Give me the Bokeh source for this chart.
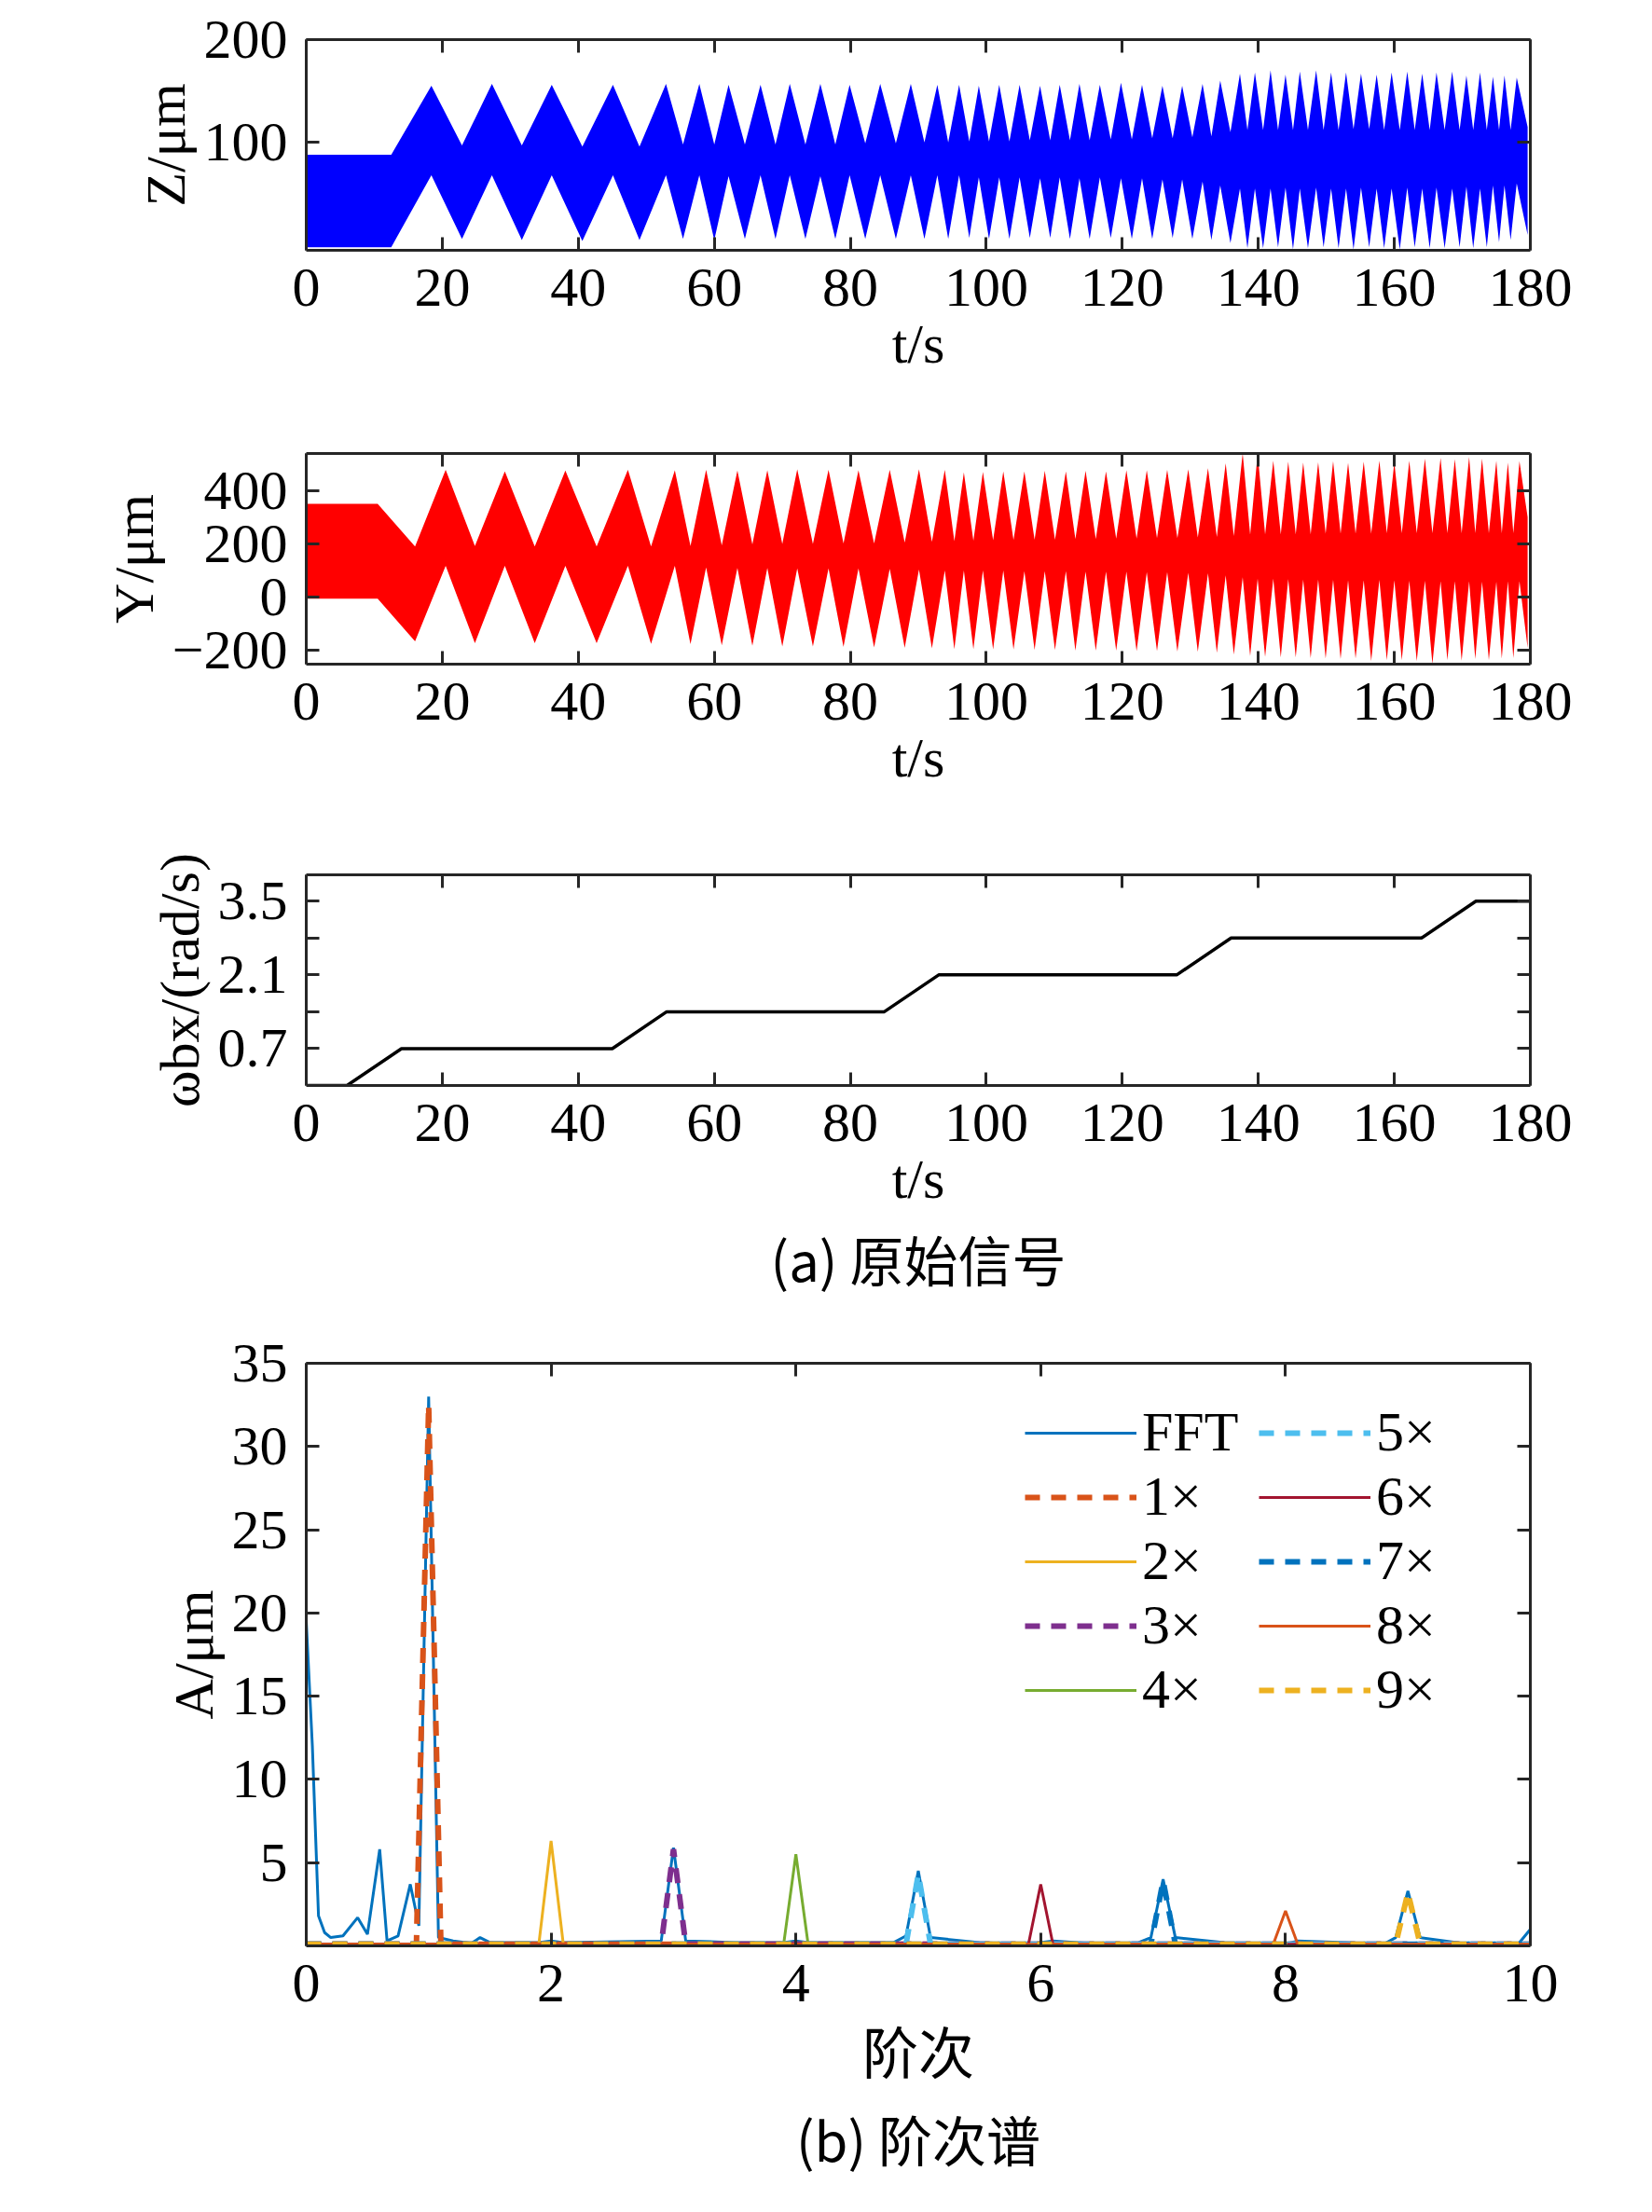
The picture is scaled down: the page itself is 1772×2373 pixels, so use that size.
from bokeh.plotting import figure
from bokeh.layouts import column
from bokeh.models import LinearAxis, Range1d, FixedTicker, Title, Legend, LegendItem
from bokeh.embed import file_html
from bokeh.resources import INLINE

# ---- Z displacement envelope ----
z_start_t = [0, 12.5]
z_start_hi = [88, 88]
z_start_lo = [-2, -2]
z_pk_t = [18.4, 27.3, 36.1, 45.1, 52.9, 57.8, 62.1, 66.8, 71.1, 75.6, 79.9, 84.4, 88.9, 92.8, 96.0, 98.9,
          101.9, 104.9, 107.9, 110.8, 113.7, 116.7, 119.8, 122.9, 125.9, 128.8, 131.8, 134.4, 137.3, 139.5,
          141.8, 144.0, 146.1, 148.5, 150.7, 152.9, 155.1, 157.4, 159.6, 161.9, 164.1, 166.2, 168.5, 170.6,
          172.6, 174.5, 176.2, 178.0]
z_pk_hi = [155, 157, 156, 156, 157, 157, 156, 156, 157, 157, 156, 157, 157, 156, 156, 155, 156, 156, 155, 156,
           157, 156, 158, 156, 155, 155, 157, 160, 167, 168, 170, 166, 169, 170, 168, 168, 167, 166, 168, 169,
           167, 168, 169, 165, 168, 164, 165, 163]
z_pk_lo = [68, 68, 68, 68, 68, 68, 67, 68, 68, 67, 68, 68, 68, 68, 68, 66, 66, 66, 65, 66, 65, 66, 65, 65, 64,
           64, 62, 58, 55, 55, 55, 56, 55, 56, 55, 55, 56, 55, 55, 56, 55, 56, 55, 57, 55, 58, 58, 60]
z_dp_t = [22.9, 31.7, 40.6, 49.0, 55.4, 60.0, 64.5, 69.0, 73.4, 77.8, 82.2, 86.7, 90.9, 94.4, 97.5, 100.4,
          103.4, 106.4, 109.4, 112.3, 115.2, 118.3, 121.4, 124.4, 127.4, 130.3, 133.1, 135.9, 138.4, 140.7,
          142.9, 145.1, 147.3, 149.6, 151.8, 154.0, 156.3, 158.5, 160.8, 163.0, 165.2, 167.4, 169.6, 171.6,
          173.6, 175.4, 177.1, 179.6]
z_dp_hi = [97, 97, 96, 96, 98, 98, 98, 98, 98, 98, 99, 99, 100, 100, 101, 101, 101, 102, 102, 102, 102, 103,
           103, 104, 104, 105, 106, 110, 112, 112, 112, 112, 112, 112, 112, 113, 113, 112, 112, 112, 112, 112,
           112, 112, 112, 112, 112, 115]
z_dp_lo = [6, 5, 4, 5, 6, 5, 6, 6, 6, 6, 6, 6, 6, 6, 7, 6, 6, 7, 7, 6, 6, 7, 6, 6, 7, 6, 5, 2, -3, -3, -2, -4,
           -3, -2, -3, -4, -2, -3, -4, -2, -3, -3, -2, -3, -2, 3, 5, 10]

# ---- Y displacement envelope ----
y_start_t = [0, 10.5]
y_start_hi = [350, 350]
y_start_lo = [-5, -5]
y_pk_t = [20.5, 29.2, 38.1, 47.3, 54.2, 58.8, 63.4, 67.8, 72.2, 76.8, 81.2, 85.8, 90.1, 93.9, 96.7, 99.5,
          102.5, 105.6, 108.6, 111.7, 114.6, 117.6, 120.6, 123.6, 126.6, 129.7, 132.6, 135.2, 137.7, 139.9,
          142.2, 144.4, 146.6, 148.8, 151.0, 153.2, 155.5, 157.8, 160.0, 162.2, 164.5, 166.8, 168.9, 171.0,
          172.9, 175.0, 176.7, 178.4]
y_pk_hi = [478, 472, 475, 478, 476, 478, 475, 476, 480, 478, 476, 478, 480, 478, 468, 470, 472, 472, 474, 472,
           474, 472, 476, 476, 478, 480, 484, 502, 540, 538, 512, 508, 505, 506, 510, 504, 508, 512, 506, 512,
           520, 522, 518, 526, 520, 512, 505, 510]
y_pk_lo = [118, 118, 118, 118, 118, 112, 110, 110, 108, 108, 108, 106, 104, 100, 100, 100, 100, 98, 98, 98,
           96, 96, 96, 94, 94, 92, 90, 82, 75, 70, 70, 68, 66, 66, 65, 64, 64, 65, 64, 62, 62, 60, 60, 60, 58,
           58, 60, 60]
y_dp_t = [16.0, 24.8, 33.6, 42.7, 50.7, 56.5, 61.1, 65.6, 70.0, 74.5, 79.0, 83.5, 88.0, 92.0, 95.3, 98.1,
          101.0, 104.0, 107.1, 110.1, 113.1, 116.1, 119.1, 122.1, 125.1, 128.1, 131.1, 133.9, 136.4, 138.8,
          141.0, 143.3, 145.5, 147.7, 149.9, 152.1, 154.3, 156.6, 158.9, 161.1, 163.3, 165.6, 167.8, 169.9,
          171.9, 173.9, 175.8, 177.5, 179.6]
y_dp_hi = [190, 192, 190, 190, 190, 192, 195, 198, 200, 200, 202, 202, 205, 208, 210, 212, 214, 215, 216, 216,
           218, 218, 220, 220, 222, 222, 224, 226, 230, 235, 236, 236, 236, 236, 238, 238, 238, 238, 240, 240,
           240, 240, 240, 240, 240, 240, 240, 240, 300]
y_dp_lo = [-165, -172, -172, -172, -175, -176, -180, -182, -185, -185, -186, -188, -190, -192, -195, -195,
           -196, -196, -198, -198, -200, -200, -200, -202, -202, -204, -205, -208, -215, -220, -224, -226, -226,
           -228, -230, -232, -230, -240, -236, -236, -240, -250, -236, -238, -232, -236, -230, -228, -190]

# ---- rotating speed ----
w_t = [0, 6, 14, 45, 53, 85, 93, 128, 136, 164, 172, 180]
w_v = [0, 0, 0.7, 0.7, 1.4, 1.4, 2.1, 2.1, 2.8, 2.8, 3.5, 3.5]

# ---- order spectrum ----
fft_x = [0, 0.05, 0.1, 0.15, 0.2, 0.3, 0.42, 0.5, 0.6, 0.66, 0.75, 0.85, 0.92, 1.0, 1.08, 1.2, 1.35, 1.42,
         1.5, 1.9, 2.0, 2.1, 2.9, 3.0, 3.1, 3.5, 3.9, 4.0, 4.1, 4.5, 4.8, 4.9, 5.0, 5.1, 5.5, 5.9, 6.0, 6.1,
         6.5, 6.8, 6.9, 7.0, 7.1, 7.5, 7.9, 8.0, 8.1, 8.5, 8.8, 8.9, 9.0, 9.1, 9.5, 9.9, 10.0]
fft_y = [19.5, 12, 1.8, 0.8, 0.5, 0.6, 1.7, 0.7, 5.8, 0.3, 0.6, 3.7, 1.2, 33, 0.5, 0.3, 0.15, 0.5, 0.2, 0.2,
         0.3, 0.2, 0.3, 5.9, 0.3, 0.2, 0.2, 0.3, 0.2, 0.2, 0.2, 0.6, 4.5, 0.5, 0.2, 0.1, 0.2, 0.3, 0.1, 0.2,
         0.5, 4.0, 0.5, 0.2, 0.1, 0.1, 0.3, 0.2, 0.1, 0.5, 3.3, 0.5, 0.1, 0.1, 1.0]
orders = [1, 2, 3, 4, 5, 6, 7, 8, 9]
order_amp = [32.5, 6.3, 5.8, 5.5, 4.3, 3.7, 3.9, 2.1, 3.2]
order_colors = ["#D95319", "#EDB120", "#7E2F8E", "#77AC30", "#4DBEEE", "#A2142F", "#0072BD", "#D95319", "#EDB120"]
order_dash = ["dashed", "solid", "dashed", "solid", "dashed", "solid", "dashed", "solid", "dashed"]
order_labels = ["1×", "2×", "3×", "4×", "5×", "6×", "7×", "8×", "9×"]

SERIF = "Liberation Serif"
CJK = "Noto Sans CJK SC"
FS = "60px"
AX = "#262626"


def make_fig(xr, yr, top, fh, bottom):
    p = figure(frame_width=1313, frame_height=fh, x_range=Range1d(*xr), y_range=Range1d(*yr),
               min_border_left=328, min_border_right=115, min_border_top=top, min_border_bottom=bottom,
               output_backend="svg", toolbar_location=None)
    p.grid.visible = False
    p.outline_line_color = None
    p.background_fill_color = "white"
    for ax in p.axis:
        ax.axis_line_width = 3
        ax.axis_line_color = AX
        ax.major_tick_line_width = 3
        ax.major_tick_line_color = AX
        ax.major_tick_in = 14
        ax.major_tick_out = 0
        ax.minor_tick_line_color = None
        ax.major_label_text_font = SERIF
        ax.major_label_text_font_size = FS
        ax.major_label_text_color = "black"
        ax.axis_label_text_font = SERIF
        ax.axis_label_text_font_size = FS
        ax.axis_label_text_font_style = "normal"
        ax.axis_label_text_color = "black"
        ax.major_label_standoff = 20
    return p


def mirror(p, xticks, yticks):
    top = LinearAxis(ticker=FixedTicker(ticks=xticks))
    right = LinearAxis(ticker=FixedTicker(ticks=yticks))
    for ax in (top, right):
        ax.axis_line_width = 3
        ax.axis_line_color = AX
        ax.major_tick_line_width = 3
        ax.major_tick_line_color = AX
        ax.major_tick_in = 14
        ax.major_tick_out = 0
        ax.minor_tick_line_color = None
        ax.major_label_text_font_size = "0px"
    p.add_layout(top, "above")
    p.add_layout(right, "right")


def envelope(st, sh, sl, pt, ph, pl, dt, dh, dl):
    pts = sorted(list(zip(st, sh, sl)) + list(zip(pt, ph, pl)) + list(zip(dt, dh, dl)))
    return [a for a, _, _ in pts], [b for _, b, _ in pts], [c for _, _, c in pts]


t_ticks = [0, 20, 40, 60, 80, 100, 120, 140, 160, 180]

# Z
p1 = make_fig((0, 180), (-5, 200), 42, 226, 160)
zx, zh, zl = envelope(z_start_t, z_start_hi, z_start_lo, z_pk_t, z_pk_hi, z_pk_lo, z_dp_t, z_dp_hi, z_dp_lo)
p1.varea(x=zx, y1=zl, y2=zh, fill_color="#0000FF")
p1.xaxis.ticker = FixedTicker(ticks=t_ticks)
p1.yaxis.ticker = FixedTicker(ticks=[100, 200])
p1.xaxis.axis_label = "t/s"
p1.yaxis.axis_label = "Z/μm"
mirror(p1, t_ticks, [100, 200])

# Y
p2 = make_fig((0, 180), (-251, 539), 58, 226, 168)
yx, yh, yl = envelope(y_start_t, y_start_hi, y_start_lo, y_pk_t, y_pk_hi, y_pk_lo, y_dp_t, y_dp_hi, y_dp_lo)
p2.varea(x=yx, y1=yl, y2=yh, fill_color="#FF0000")
p2.xaxis.ticker = FixedTicker(ticks=t_ticks)
p2.yaxis.ticker = FixedTicker(ticks=[-200, 0, 200, 400])
p2.yaxis.major_label_overrides = {-200: "−200"}
p2.xaxis.axis_label = "t/s"
p2.yaxis.axis_label = "Y/μm"
mirror(p2, t_ticks, [-200, 0, 200, 400])

# omega
w_ticks = [0.7, 1.4, 2.1, 2.8, 3.5]
p3 = make_fig((0, 180), (0, 4.0), 58, 226, 232)
p3.line(w_t, w_v, line_color="black", line_width=3.5)
p3.xaxis.ticker = FixedTicker(ticks=t_ticks)
p3.yaxis.ticker = FixedTicker(ticks=w_ticks)
p3.yaxis.major_label_overrides = {1.4: "", 2.8: ""}
p3.xaxis.axis_label = "t/s"
p3.yaxis.axis_label = "ωbx/(rad/s)"
mirror(p3, t_ticks, w_ticks)
cap_a = Title(text="(a) 原始信号", align="center", text_font=CJK, text_font_size="58px",
              text_font_style="normal", text_color="black")
p3.add_layout(cap_a, "below")

# order spectrum
a_ticks = [5, 10, 15, 20, 25, 30, 35]
o_ticks = [0, 2, 4, 6, 8, 10]
p4 = make_fig((0, 10), (0, 35), 66, 625, 212)
items = []
r = p4.line(fft_x, fft_y, line_color="#0072BD", line_width=3)
items.append(LegendItem(label="FFT", renderers=[r]))
for k, a, c, d, lab in zip(orders, order_amp, order_colors, order_dash, order_labels):
    xs = [0, k - 0.1, k, k + 0.1, 10]
    ys = [0.1, 0.1, a, 0.1, 0.1]
    if d == "dashed":
        r = p4.line(xs, ys, line_color=c, line_width=6, line_dash="16 12")
    else:
        r = p4.line(xs, ys, line_color=c, line_width=3)
    items.append(LegendItem(label=lab, renderers=[r]))
p4.xaxis.ticker = FixedTicker(ticks=o_ticks)
p4.yaxis.ticker = FixedTicker(ticks=a_ticks)
p4.xaxis.axis_label = "阶次"
p4.xaxis.axis_label_text_font = CJK
p4.yaxis.axis_label = "A/μm"
mirror(p4, o_ticks, a_ticks)
leg = Legend(items=items, nrows=5, location="top_right", label_text_font=SERIF, label_text_font_size="60px",
             label_text_color="black", glyph_width=120, glyph_height=40, spacing=0, label_height=60,
             background_fill_alpha=0, border_line_color=None, margin=40, padding=10, label_standoff=6,
             label_width=125)
p4.add_layout(leg)
cap_b = Title(text="(b) 阶次谱", align="center", text_font=CJK, text_font_size="58px",
              text_font_style="normal", text_color="black")
p4.add_layout(cap_b, "below")

page = column(p1, p2, p3, p4, spacing=0)
open("out.html", "w").write(file_html(page, INLINE))
